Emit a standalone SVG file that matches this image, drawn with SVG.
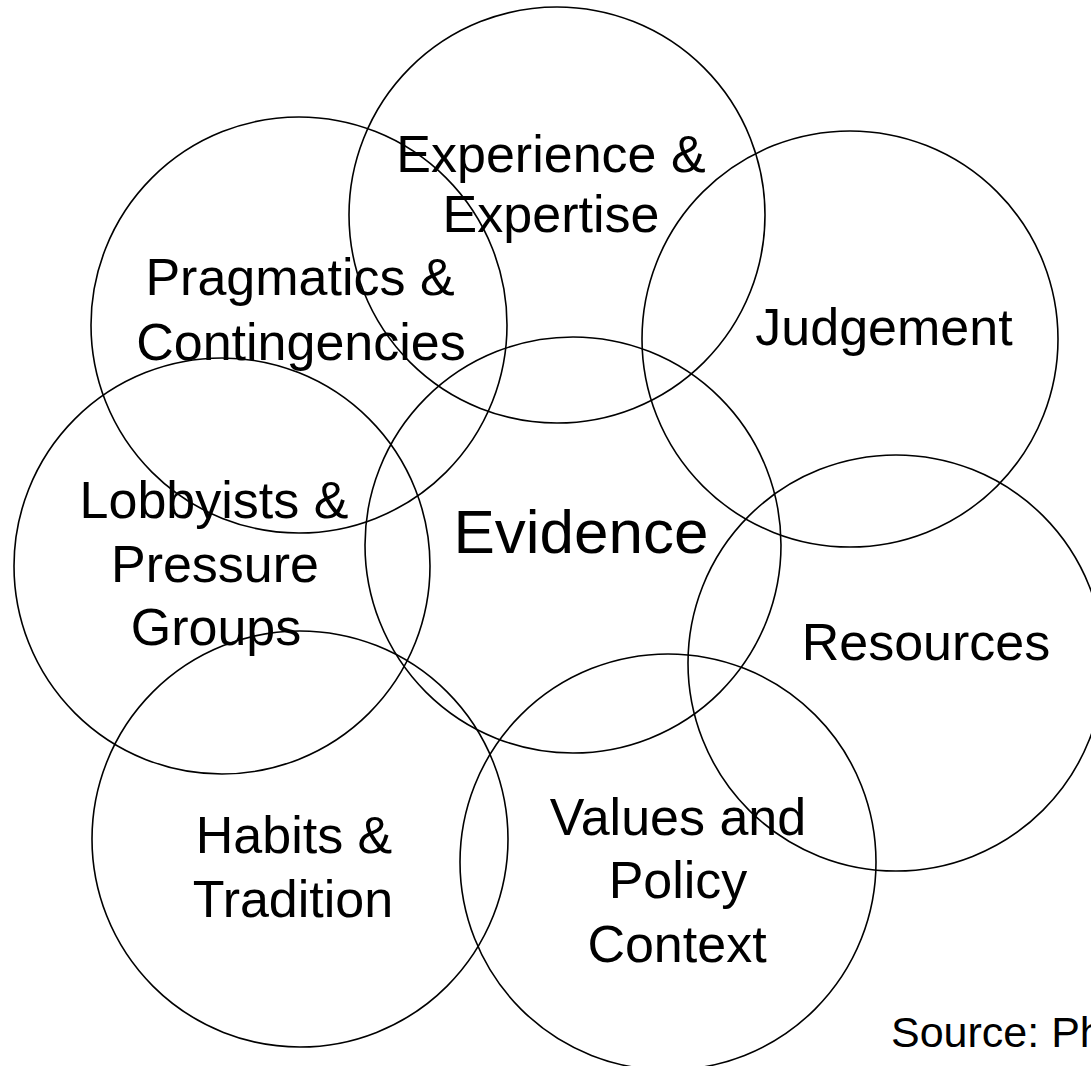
<svg xmlns="http://www.w3.org/2000/svg" width="1091" height="1066" viewBox="0 0 1091 1066">
<style>
.c{fill:none;stroke:#000;stroke-width:1.6}
.t{font-family:"Liberation Sans",Arial,sans-serif;font-size:52px;fill:#000;text-anchor:middle}
.big{font-size:62px}
.src{font-family:"Liberation Sans",Arial,sans-serif;font-size:43px;fill:#000}
</style>
<rect width="1091" height="1066" fill="#fff"/>
<g id="experience"><circle class="c" cx="557" cy="215" r="208"/><text class="t" x="551" y="172">Experience &amp;</text><text class="t" x="551" y="232">Expertise</text></g>
<g id="pragmatics"><circle class="c" cx="299" cy="325" r="208"/><text class="t" x="300" y="295">Pragmatics &amp;</text><text class="t" x="301" y="360">Contingencies</text></g>
<g id="judgement"><circle class="c" cx="850" cy="339" r="208"/><text class="t" x="884" y="345">Judgement</text></g>
<g id="evidence"><circle class="c" cx="573" cy="545" r="208"/><text class="t big" x="581" y="553">Evidence</text></g>
<g id="lobbyists"><circle class="c" cx="222" cy="566" r="208"/><text class="t" x="214" y="518">Lobbyists &amp;</text><text class="t" x="215" y="582">Pressure</text><text class="t" x="216" y="645">Groups</text></g>
<g id="resources"><circle class="c" cx="896" cy="663" r="208"/><text class="t" x="926" y="660">Resources</text></g>
<g id="habits"><circle class="c" cx="300" cy="839" r="208"/><text class="t" x="294" y="853">Habits &amp;</text><text class="t" x="293" y="917">Tradition</text></g>
<g id="values"><circle class="c" cx="668" cy="862" r="208"/><text class="t" x="678" y="835">Values and</text><text class="t" x="678" y="898">Policy</text><text class="t" x="677" y="962">Context</text></g>
<g id="connectors"/>
<text class="src" x="891" y="1047">Source: Ph</text>
</svg>
